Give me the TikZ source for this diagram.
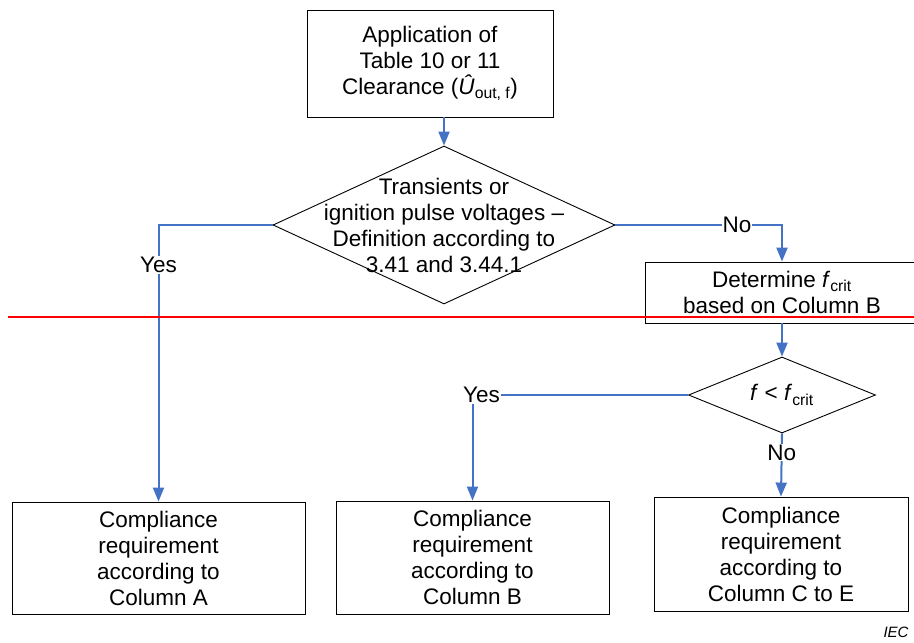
\documentclass[tikz,border=0pt]{standalone}
\usepackage{fontspec}
\setmainfont{Liberation Sans}
\usetikzlibrary{shapes.geometric,arrows.meta}
\definecolor{flowblue}{RGB}{68,114,196}
\begin{document}
\begin{tikzpicture}[x=1pt,y=-1pt,every node/.style={font=\fontsize{22.5}{26}\selectfont}]
    \tikzset{box/.style={draw=black,line width=0.9pt,rectangle,align=center,inner sep=0pt}};
    \tikzset{cond/.style={draw=black,line width=0.9pt,diamond,inner sep=0pt}};
    \tikzset{flow/.style={draw=flowblue,line width=2pt,-{Triangle[length=14pt,width=11pt]}}};
    \tikzset{lbl/.style={fill=white,inner sep=1pt}};
    \useasboundingbox (0,0) rectangle (914,643);
    \node[box, minimum width=246, minimum height=107] (sApp) at (430,63.5) {Application of\\Table 10 or 11\\Clearance (\textit{Û}\textsubscript{out, f})};
    \node[cond, minimum width=342, minimum height=158,
          label={[align=center]center:Transients or\\ignition pulse voltages –\\Definition according to\\3.41 and 3.44.1}] (sTrans) at (444,225) {};
    \node[box, minimum width=274, minimum height=61] (sDet) at (782,292.5) {Determine \textit{f}\textsubscript{crit}\\based on Column B};
    \node[cond, minimum width=187, minimum height=76,
          label={center:\textit{f} < \textit{f}\textsubscript{crit}}] (sFreq) at (782,395) {};
    \node[box, minimum width=293, minimum height=112] (sColA) at (158.5,558) {Compliance\\requirement\\according to\\Column A};
    \node[box, minimum width=273, minimum height=113] (sColB) at (472.5,557.5) {Compliance\\requirement\\according to\\Column B};
    \node[box, minimum width=254, minimum height=114] (sColC) at (781,554) {Compliance\\requirement\\according to\\Column C to E};
    \node[font=\fontsize{15}{17}\selectfont\itshape] (sIEC) at (896,632) {IEC};
    {
       \draw[flow] (sApp.south -| sTrans.north) -- (sTrans.north);
       \draw[flow] (sTrans.west) -| node[lbl, pos=0.572] {Yes} (sColA.north);
       \draw[flow] (sTrans.east) -| node[lbl, pos=0.365] {No} (sDet.north);
       \draw[flow] (sDet.south) -- (sFreq.north);
       \draw[flow] (sFreq.west) -| node[lbl, pos=0.5, xshift=9] {Yes} (sColB.north);
       \draw[flow] (sFreq.south) -- node[lbl, pos=0.3] {No} (sColC.north);
    }
    \draw[red, line width=1.2pt] (8,317) -- (914,317);
\end{tikzpicture}
\end{document}
